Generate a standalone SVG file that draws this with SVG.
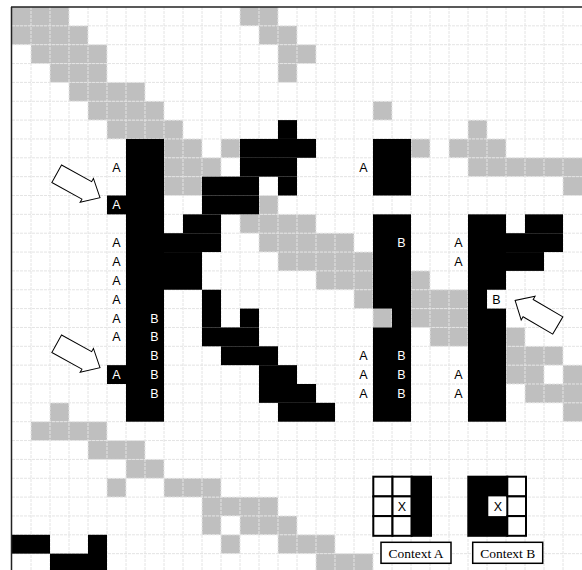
<svg xmlns="http://www.w3.org/2000/svg" width="582" height="570" viewBox="0 0 582 570">
<style>
.g{fill:#bfbfbf}
.k{fill:#000}
.grid line{stroke:#e4e4e4;stroke-width:1;stroke-dasharray:3 1}
.t{font-family:"Liberation Sans",Arial,sans-serif;font-size:12.5px;text-anchor:middle}
.tw{fill:#fff}
.tb{fill:#000}
.arrow{fill:#fff;stroke:#000;stroke-width:1}
.lbl{font-family:"Liberation Serif","Times New Roman",serif;font-size:13.5px;text-anchor:middle;fill:#000}
.box{fill:#fff;stroke:#000;stroke-width:1.5}
.cb{fill:#fff;stroke:#000;stroke-width:2}
</style>
<defs>
<path id="arr" d="M0,-10 L34.4,-10 L34.4,-13.7 L49.5,0 L34.4,13.7 L34.4,10 L0,10 Z"/>
</defs>
<rect x="0" y="0" width="582" height="570" fill="#fff"/>
<g id="gray-cells" class="g" transform="translate(12 7) scale(19 18.85)">
<rect x="0" y="0" width="3" height="1"/><rect x="12" y="0" width="2" height="1"/>
<rect x="0" y="1" width="4" height="1"/><rect x="13" y="1" width="2" height="1"/>
<rect x="1" y="2" width="4" height="1"/><rect x="14" y="2" width="2" height="1"/>
<rect x="2" y="3" width="3" height="1"/><rect x="14" y="3" width="1" height="1"/>
<rect x="3" y="4" width="4" height="1"/>
<rect x="4" y="5" width="4" height="1"/><rect x="19" y="5" width="1" height="1"/>
<rect x="5" y="6" width="4" height="1"/><rect x="24" y="6" width="1" height="1"/>
<rect x="8" y="7" width="2" height="1"/><rect x="11" y="7" width="1" height="1"/><rect x="21" y="7" width="1" height="1"/><rect x="23" y="7" width="3" height="1"/>
<rect x="8" y="8" width="3" height="1"/><rect x="24" y="8" width="6" height="1"/>
<rect x="8" y="9" width="2" height="1"/><rect x="29" y="9" width="1" height="1"/>
<rect x="13" y="10" width="1" height="1"/>
<rect x="12" y="11" width="4" height="1"/>
<rect x="13" y="12" width="5" height="1"/>
<rect x="14" y="13" width="5" height="1"/>
<rect x="16" y="14" width="3" height="1"/><rect x="21" y="14" width="1" height="1"/>
<rect x="18" y="15" width="1" height="1"/><rect x="21" y="15" width="3" height="1"/>
<rect x="19" y="16" width="1" height="1"/><rect x="21" y="16" width="3" height="1"/>
<rect x="22" y="17" width="2" height="1"/><rect x="26" y="17" width="1" height="1"/>
<rect x="26" y="18" width="3" height="1"/>
<rect x="26" y="19" width="2" height="1"/><rect x="29" y="19" width="1" height="1"/>
<rect x="27" y="20" width="3" height="1"/>
<rect x="2" y="21" width="1" height="1"/><rect x="29" y="21" width="1" height="1"/>
<rect x="1" y="22" width="4" height="1"/>
<rect x="4" y="23" width="3" height="1"/>
<rect x="6" y="24" width="2" height="1"/>
<rect x="5" y="25" width="1" height="1"/><rect x="8" y="25" width="3" height="1"/>
<rect x="10" y="26" width="4" height="1"/>
<rect x="10" y="27" width="1" height="1"/><rect x="12" y="27" width="3" height="1"/>
<rect x="11" y="28" width="1" height="1"/><rect x="14" y="28" width="3" height="1"/>
<rect x="16" y="29" width="3" height="1"/>
</g>
<g id="grid" class="grid">
<line x1="31" y1="7" x2="31" y2="570"/><line x1="50" y1="7" x2="50" y2="570"/><line x1="69" y1="7" x2="69" y2="570"/><line x1="88" y1="7" x2="88" y2="570"/><line x1="107" y1="7" x2="107" y2="570"/><line x1="126" y1="7" x2="126" y2="570"/><line x1="145" y1="7" x2="145" y2="570"/><line x1="164" y1="7" x2="164" y2="570"/><line x1="183" y1="7" x2="183" y2="570"/><line x1="202" y1="7" x2="202" y2="570"/><line x1="221" y1="7" x2="221" y2="570"/><line x1="240" y1="7" x2="240" y2="570"/><line x1="259" y1="7" x2="259" y2="570"/><line x1="278" y1="7" x2="278" y2="570"/><line x1="297" y1="7" x2="297" y2="570"/><line x1="316" y1="7" x2="316" y2="570"/><line x1="335" y1="7" x2="335" y2="570"/><line x1="354" y1="7" x2="354" y2="570"/><line x1="373" y1="7" x2="373" y2="570"/><line x1="392" y1="7" x2="392" y2="570"/><line x1="411" y1="7" x2="411" y2="570"/><line x1="430" y1="7" x2="430" y2="570"/><line x1="449" y1="7" x2="449" y2="570"/><line x1="468" y1="7" x2="468" y2="570"/><line x1="487" y1="7" x2="487" y2="570"/><line x1="506" y1="7" x2="506" y2="570"/><line x1="525" y1="7" x2="525" y2="570"/><line x1="544" y1="7" x2="544" y2="570"/><line x1="563" y1="7" x2="563" y2="570"/>
<line x1="12" y1="25.85" x2="582" y2="25.85"/><line x1="12" y1="44.7" x2="582" y2="44.7"/><line x1="12" y1="63.55" x2="582" y2="63.55"/><line x1="12" y1="82.4" x2="582" y2="82.4"/><line x1="12" y1="101.25" x2="582" y2="101.25"/><line x1="12" y1="120.1" x2="582" y2="120.1"/><line x1="12" y1="138.95" x2="582" y2="138.95"/><line x1="12" y1="157.8" x2="582" y2="157.8"/><line x1="12" y1="176.65" x2="582" y2="176.65"/><line x1="12" y1="195.5" x2="582" y2="195.5"/><line x1="12" y1="214.35" x2="582" y2="214.35"/><line x1="12" y1="233.2" x2="582" y2="233.2"/><line x1="12" y1="252.05" x2="582" y2="252.05"/><line x1="12" y1="270.9" x2="582" y2="270.9"/><line x1="12" y1="289.75" x2="582" y2="289.75"/><line x1="12" y1="308.6" x2="582" y2="308.6"/><line x1="12" y1="327.45" x2="582" y2="327.45"/><line x1="12" y1="346.3" x2="582" y2="346.3"/><line x1="12" y1="365.15" x2="582" y2="365.15"/><line x1="12" y1="384" x2="582" y2="384"/><line x1="12" y1="402.85" x2="582" y2="402.85"/><line x1="12" y1="421.7" x2="582" y2="421.7"/><line x1="12" y1="440.55" x2="582" y2="440.55"/><line x1="12" y1="459.4" x2="582" y2="459.4"/><line x1="12" y1="478.25" x2="582" y2="478.25"/><line x1="12" y1="497.1" x2="582" y2="497.1"/><line x1="12" y1="515.95" x2="582" y2="515.95"/><line x1="12" y1="534.8" x2="582" y2="534.8"/><line x1="12" y1="553.65" x2="582" y2="553.65"/>
</g>
<g id="black-cells" class="k" transform="translate(12 7) scale(19 18.85)">
<rect x="6" y="7" width="2" height="15"/>
<rect x="5" y="10" width="1" height="1"/><rect x="5" y="19" width="1" height="1"/>
<rect x="14" y="6" width="1" height="1"/>
<rect x="12" y="7" width="4" height="1"/>
<rect x="12" y="8" width="3" height="1"/>
<rect x="10" y="9" width="3" height="1"/><rect x="14" y="9" width="1" height="1"/>
<rect x="10" y="10" width="3" height="1"/>
<rect x="9" y="11" width="2" height="1"/>
<rect x="8" y="12" width="3" height="1"/>
<rect x="8" y="13" width="2" height="2"/>
<rect x="10" y="15" width="1" height="2"/>
<rect x="12" y="16" width="1" height="1"/>
<rect x="10" y="17" width="3" height="1"/>
<rect x="11" y="18" width="3" height="1"/>
<rect x="13" y="19" width="2" height="1"/>
<rect x="13" y="20" width="3" height="1"/>
<rect x="14" y="21" width="3" height="1"/>
<rect x="19" y="7" width="2" height="3"/>
<rect x="20" y="11" width="1" height="11"/><rect x="19" y="11" width="1" height="5"/><rect x="19" y="17" width="1" height="5"/>
<rect x="24" y="11" width="1" height="11"/><rect x="25" y="11" width="1" height="4"/><rect x="25" y="16" width="1" height="6"/>
<rect x="27" y="11" width="2" height="1"/>
<rect x="26" y="12" width="3" height="1"/>
<rect x="26" y="13" width="2" height="1"/>
<rect x="0" y="28" width="2" height="1"/><rect x="4" y="28" width="1" height="2"/><rect x="2" y="29" width="2" height="1"/>
</g>
<g id="frame" fill="none" stroke="#222" stroke-width="1.5">
<line x1="11.5" y1="7" x2="11.5" y2="570"/>
<line x1="11" y1="7" x2="582" y2="7"/>
</g>
<g id="labels" class="t">
<text class="tb" x="116.5" y="171.7">A</text>
<text class="tw" x="116.5" y="209.4">A</text>
<text class="tb" x="116.5" y="247.1">A</text>
<text class="tb" x="116.5" y="265.95">A</text>
<text class="tb" x="116.5" y="284.8">A</text>
<text class="tb" x="116.5" y="303.65">A</text>
<text class="tb" x="116.5" y="322.5">A</text>
<text class="tb" x="116.5" y="341.35">A</text>
<text class="tw" x="116.5" y="379.05">A</text>
<text class="tw" x="154.5" y="322.5">B</text>
<text class="tw" x="154.5" y="341.35">B</text>
<text class="tw" x="154.5" y="360.2">B</text>
<text class="tw" x="154.5" y="379.05">B</text>
<text class="tw" x="154.5" y="397.9">B</text>
<text class="tb" x="363.5" y="171.7">A</text>
<text class="tb" x="363.5" y="360.2">A</text>
<text class="tb" x="363.5" y="379.05">A</text>
<text class="tb" x="363.5" y="397.9">A</text>
<text class="tw" x="401.5" y="247.1">B</text>
<text class="tw" x="401.5" y="360.2">B</text>
<text class="tw" x="401.5" y="379.05">B</text>
<text class="tw" x="401.5" y="397.9">B</text>
<text class="tb" x="458.5" y="247.1">A</text>
<text class="tb" x="458.5" y="265.95">A</text>
<text class="tb" x="458.5" y="379.05">A</text>
<text class="tb" x="458.5" y="397.9">A</text>
<text class="tb" x="496.5" y="303.65">B</text>
</g>
<g id="connectors">
<use href="#arr" class="arrow" transform="translate(56.7 173.7) rotate(29)"/>
<use href="#arr" class="arrow" transform="translate(56.7 343.7) rotate(29)"/>
<use href="#arr" class="arrow" transform="translate(557.8 325.5) rotate(210.4)"/>
</g>
<g id="context-a">
<rect class="cb" x="373.3" y="476.7" width="19.2" height="19.7"/>
<rect class="cb" x="392.5" y="476.7" width="19.2" height="19.7"/>
<rect class="cb" x="373.3" y="496.4" width="19.2" height="19.7"/>
<rect class="cb" x="392.5" y="496.4" width="19.2" height="19.7"/>
<rect class="cb" x="373.3" y="516.1" width="19.2" height="19.7"/>
<rect class="cb" x="392.5" y="516.1" width="19.2" height="19.7"/>
<rect x="411.7" y="476.7" width="19.3" height="59.1" fill="#000" stroke="#000" stroke-width="2"/>
<text class="t tb" x="402" y="510.5">X</text>
<rect class="box" x="381" y="542.3" width="70" height="21"/>
<text class="lbl" x="416" y="558">Context A</text>
</g>
<g id="context-b">
<rect x="468.3" y="476.7" width="39" height="59.1" fill="#000" stroke="#000" stroke-width="2"/>
<rect x="488.3" y="496.4" width="19" height="19.7" fill="#fff"/>
<rect class="cb" x="507.3" y="476.7" width="18.7" height="19.7"/>
<rect class="cb" x="507.3" y="496.4" width="18.7" height="19.7"/>
<rect class="cb" x="507.3" y="516.1" width="18.7" height="19.7"/>
<text class="t tb" x="497.8" y="510.5">X</text>
<rect class="box" x="472.7" y="542.3" width="70" height="21"/>
<text class="lbl" x="507.7" y="558">Context B</text>
</g>
</svg>
